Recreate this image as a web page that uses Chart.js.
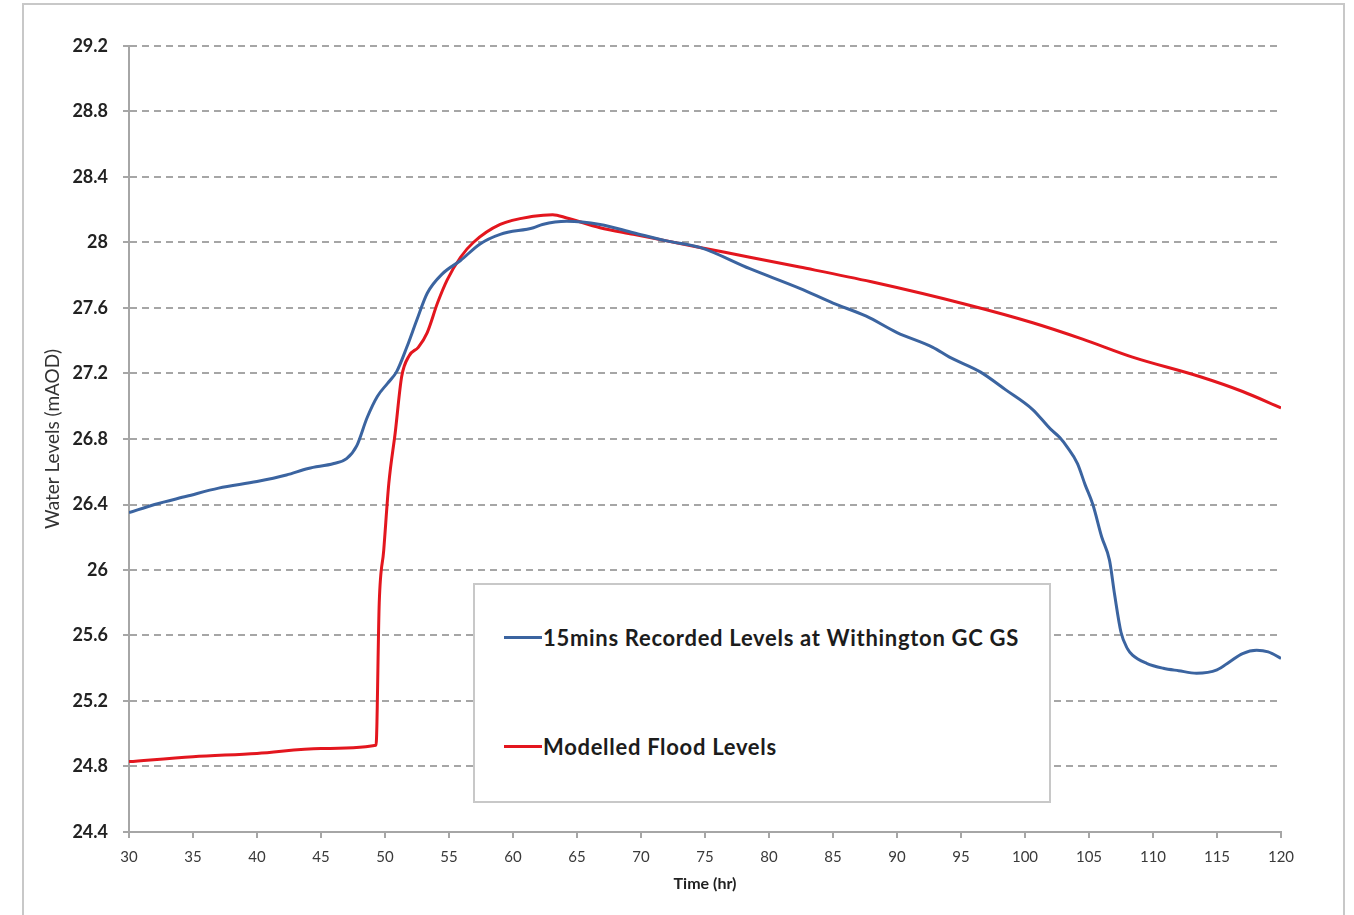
<!DOCTYPE html>
<html>
<head>
<meta charset="utf-8">
<title>Water Levels</title>
<script src="https://cdn.jsdelivr.net/npm/chart.js@4.4.1/dist/chart.umd.min.js"></script>
<style>
    body { margin: 0; background: #fff; }
    #wrap { position: relative; width: 1354px; height: 915px; overflow: hidden; }
    #frame {
        position: absolute; left: 22px; top: 3px; width: 1319px; height: 960px;
        border: 2px solid #c8c8c8; pointer-events: none;
    }
    #chart { position: absolute; left: 0; top: 0; }
    #legendBox {
        position: absolute; left: 473px; top: 583px; width: 574px; height: 216px;
        border: 2px solid #c8c8c8; background: #fff;
        font-family: "Lato", sans-serif; font-weight: bold; font-size: 22px; color: #1c1c1c;
        letter-spacing: 0.7px;
    }
    .item { position: absolute; left: 29px; display: flex; align-items: center; height: 28px; }
    .swatch { width: 38px; height: 3px; margin-right: 1px; }
</style>
</head>
<body>
<div id="wrap">
    <div id="frame"></div>
    <canvas id="chart" width="1354" height="915"></canvas>
    <div id="legendBox"></div>
</div>
<script>
// recorded levels (15 min gauge), time in hours
const recordedTime = [30, 32, 34.5, 37, 40, 42.3, 44, 46, 47, 47.8, 48.6, 49.4, 50.2, 50.9, 51.7, 52.5, 53.3, 54.5, 55.9,
    57.4, 59, 61.6, 62.3, 64.2, 66.8, 69.4, 72, 74.6, 78.5, 82.4, 85, 87.6, 90, 92.8, 94.1, 96.5, 98.5, 100.6, 102,
    102.7, 103.3, 104.1, 104.7, 105.3, 106, 106.6, 107, 107.5, 108, 108.4, 109.5, 110.8, 112, 113.4, 115, 116, 117,
    118.1, 119, 120];
const recordedLevel = [26.35, 26.40, 26.45, 26.50, 26.54, 26.58, 26.62, 26.65, 26.68, 26.76, 26.93, 27.06, 27.14, 27.21,
    27.36, 27.53, 27.69, 27.81, 27.89, 27.99, 28.05, 28.09, 28.11, 28.13, 28.11, 28.06, 28.01, 27.97, 27.84, 27.72,
    27.63, 27.55, 27.45, 27.36, 27.30, 27.21, 27.10, 26.98, 26.86, 26.81, 26.75, 26.65, 26.52, 26.40, 26.20, 26.06,
    25.85, 25.62, 25.52, 25.48, 25.43, 25.40, 25.385, 25.37, 25.39, 25.44, 25.49, 25.51, 25.50, 25.46];

// modelled flood levels
const modelledTime = [30, 35, 40, 45, 49.3, 49.55, 49.9, 50.3, 50.8, 51.3, 51.9, 52.6, 53.3, 54.1, 54.85, 55.9, 56.9,
    59, 61.6, 63.1, 64.2, 66.8, 69.4, 74.6, 78.5, 82.4, 88, 95.5, 100.6, 104.5, 108.4, 113.7, 117, 120];
const modelledLevel = [24.83, 24.86, 24.88, 24.91, 24.93, 25.80, 26.12, 26.53, 26.84, 27.18, 27.31, 27.36, 27.45, 27.63,
    27.77, 27.91, 28.00, 28.11, 28.16, 28.17, 28.15, 28.09, 28.05, 27.97, 27.91, 27.85, 27.76, 27.62, 27.51, 27.41,
    27.30, 27.18, 27.09, 26.99];

const seriesNames = ["15mins Recorded Levels at Withington GC GS", "Modelled Flood Levels"];

const xTicks = [30, 35, 40, 45, 50, 55, 60, 65, 70, 75, 80, 85, 90, 95, 100, 105, 110, 115, 120];
const yTicks = [24.4, 24.8, 25.2, 25.6, 26, 26.4, 26.8, 27.2, 27.6, 28, 28.4, 28.8, 29.2];
const yTickLabels = ["24.4", "24.8", "25.2", "25.6", "26", "26.4", "26.8", "27.2", "27.6", "28", "28.4", "28.8", "29.2"];

function toPoints(xs, ys) {
    return xs.map((x, i) => ({ x: x, y: ys[i] }));
}

// html legend built from the datasets
const htmlLegend = {
    id: "htmlLegend",
    afterUpdate(chart) {
        const box = document.getElementById("legendBox");
        box.innerHTML = "";
        const tops = [52, 161];
        chart.data.datasets.forEach((ds, i) => {
            const item = document.createElement("div");
            item.className = "item";
            item.style.top = (tops[i] - 14) + "px";
            const sw = document.createElement("span");
            sw.className = "swatch";
            sw.style.background = ds.borderColor;
            const txt = document.createElement("span");
            txt.textContent = ds.label;
            item.appendChild(sw);
            item.appendChild(txt);
            box.appendChild(item);
        });
    }
};

const ctx = document.getElementById("chart").getContext("2d");
new Chart(ctx, {
    type: "line",
    data: {
        datasets: [{
            label: seriesNames[0],
            data: toPoints(recordedTime, recordedLevel),
            borderColor: "#3b64a0",
            borderWidth: 3,
            pointRadius: 0,
            cubicInterpolationMode: "monotone"
        }, {
            label: seriesNames[1],
            data: toPoints(modelledTime, modelledLevel),
            borderColor: "#e3161e",
            borderWidth: 3,
            pointRadius: 0,
            cubicInterpolationMode: "monotone"
        }]
    },
    options: {
        responsive: false,
        animation: false,
        events: [],
        layout: { padding: { left: 0, top: 46, right: 73, bottom: 0 } },
        plugins: {
            legend: { display: false },
            tooltip: { enabled: false }
        },
        scales: {
            x: {
                type: "linear",
                min: 30,
                max: 120,
                afterFit: s => { s.height = 83; },
                afterBuildTicks: s => { s.ticks = xTicks.map(v => ({ value: v })); },
                border: { color: "#a6a6a6", width: 2 },
                grid: { drawOnChartArea: false, drawTicks: true, tickLength: 6, color: "#a6a6a6", lineWidth: 2 },
                ticks: {
                    padding: 10,
                    maxRotation: 0,
                    color: "#3a3a3a",
                    font: { family: "Lato", size: 15 },
                    callback: v => String(v)
                },
                title: {
                    display: true,
                    text: "Time (hr)",
                    color: "#222",
                    font: { family: "Lato", size: 16, weight: "bold" },
                    padding: { top: 0, bottom: 22 }
                }
            },
            y: {
                min: 24.4,
                max: 29.2,
                afterFit: s => { s.width = 129; },
                afterBuildTicks: s => { s.ticks = yTicks.map(v => ({ value: v })); },
                border: { color: "#a6a6a6", width: 2, dash: [7, 5] },
                grid: {
                    color: "#a6a6a6",
                    lineWidth: 2,
                    tickLength: 6,
                    tickBorderDash: [],
                    drawTicks: true
                },
                ticks: {
                    padding: 15,
                    color: "#222",
                    font: { family: "Lato", size: 18, weight: "bold" },
                    callback: (v, i) => yTickLabels[i]
                },
                title: {
                    display: true,
                    text: "Water Levels (mAOD)",
                    color: "#333",
                    font: { family: "Lato", size: 19 },
                    padding: { top: 41, bottom: 0 }
                }
            }
        }
    },
    plugins: [htmlLegend]
});
</script>
</body>
</html>
